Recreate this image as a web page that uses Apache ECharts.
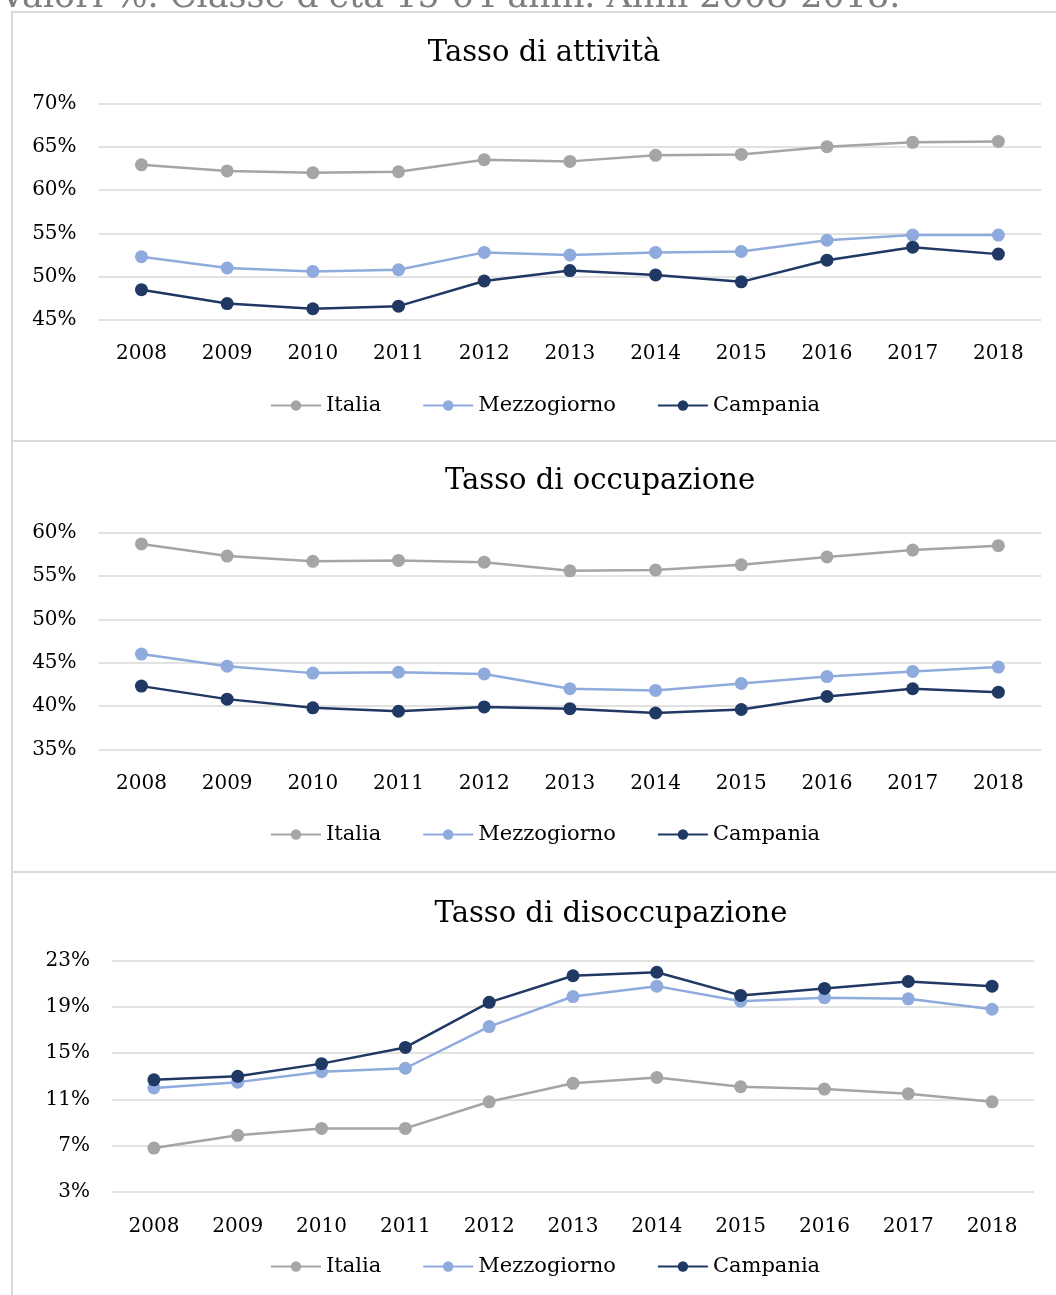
<!DOCTYPE html>
<html>
<head>
    <meta charset="utf-8">
    <script src="https://cdn.jsdelivr.net/npm/echarts@6/dist/echarts.min.js"></script>
    <style>
        body {
            margin: 0px;
            padding: 0px;
            background: #fff;
        }
        #chart {
            width: 1056px;
            height: 1295px;
        }
    </style>
</head>
<body>
    <div id="chart"></div>
    <script>
        var years = ['2008', '2009', '2010', '2011', '2012', '2013', '2014', '2015', '2016', '2017', '2018'];
        var seriesNames = ['Italia', 'Mezzogiorno', 'Campania'];
        var colors = ['#a5a5a5', '#8faadc', '#203864'];

        // Tasso di attivita
        var attItalia = [62.9, 62.2, 62.0, 62.1, 63.5, 63.3, 64.0, 64.1, 65.0, 65.5, 65.6];
        var attMezzogiorno = [52.3, 51.0, 50.6, 50.8, 52.8, 52.5, 52.8, 52.9, 54.2, 54.8, 54.8];
        var attCampania = [48.5, 46.9, 46.3, 46.6, 49.5, 50.7, 50.2, 49.4, 51.9, 53.4, 52.6];

        // Tasso di occupazione
        var occItalia = [58.7, 57.3, 56.7, 56.8, 56.6, 55.6, 55.7, 56.3, 57.2, 58.0, 58.5];
        var occMezzogiorno = [46.0, 44.6, 43.8, 43.9, 43.7, 42.0, 41.8, 42.6, 43.4, 44.0, 44.5];
        var occCampania = [42.3, 40.8, 39.8, 39.4, 39.9, 39.7, 39.2, 39.6, 41.1, 42.0, 41.6];

        // Tasso di disoccupazione
        var disItalia = [6.8, 7.9, 8.5, 8.5, 10.8, 12.4, 12.9, 12.1, 11.9, 11.5, 10.8];
        var disMezzogiorno = [12.0, 12.5, 13.4, 13.7, 17.3, 19.9, 20.8, 19.5, 19.8, 19.7, 18.8];
        var disCampania = [12.7, 13.0, 14.1, 15.5, 19.4, 21.7, 22.0, 20.0, 20.6, 21.2, 20.8];

        var font = 'DejaVu Serif';

        var chart = echarts.init(document.getElementById('chart'));

        function makeSeries(idx, values) {
            return values.map(function (v, i) {
                return {
                    name: seriesNames[i],
                    type: 'line',
                    xAxisIndex: idx,
                    yAxisIndex: idx,
                    data: v,
                    symbol: 'circle',
                    symbolSize: 13,
                    color: colors[i],
                    lineStyle: { width: 2.5, color: colors[i] },
                    itemStyle: { color: colors[i] },
                    animation: false
                };
            });
        }

        function xAxis(idx, margin) {
            return {
                type: 'category',
                gridIndex: idx,
                data: years,
                boundaryGap: true,
                axisLine: { show: false },
                axisTick: { show: false },
                axisLabel: { fontFamily: font, fontSize: 20, color: '#000', margin: margin }
            };
        }

        function yAxis(idx, min, max, step) {
            return {
                type: 'value',
                gridIndex: idx,
                min: min,
                max: max,
                interval: step,
                axisLine: { show: false },
                axisTick: { show: false },
                axisLabel: { fontFamily: font, fontSize: 20, color: '#000', margin: 22, formatter: '{value}%' },
                splitLine: { lineStyle: { color: '#d9d9d9', width: 1.5 } }
            };
        }

        function legend(top) {
            return {
                data: seriesNames,
                left: 270,
                top: top,
                padding: 0,
                itemWidth: 50,
                itemHeight: 13,
                itemGap: 41,
                textStyle: { fontFamily: font, fontSize: 21, color: '#000' }
            };
        }

        function titleText(text, x, y) {
            return {
                type: 'text',
                x: x,
                y: y,
                style: { text: text, fontFamily: font, fontSize: 29, fill: '#000', align: 'center', verticalAlign: 'middle' }
            };
        }

        function box(y, h) {
            return {
                type: 'rect',
                z: -10,
                shape: { x: 12, y: y, width: 1100, height: h },
                style: { fill: 'none', stroke: '#d9d9d9', lineWidth: 2 }
            };
        }

        chart.setOption({
            animation: false,
            grid: [
                { left: 98.6, top: 103.3, width: 942.6, height: 216.7 },
                { left: 98.6, top: 532.7, width: 942.6, height: 216.7 },
                { left: 112, top: 960.7, width: 922, height: 231.3 }
            ],
            xAxis: [xAxis(0, 24), xAxis(1, 24), xAxis(2, 25)],
            yAxis: [yAxis(0, 45, 70, 5), yAxis(1, 35, 60, 5), yAxis(2, 3, 23, 4)],
            legend: [legend(395), legend(824), legend(1256)],
            graphic: [
                box(12, 429),
                box(441, 431),
                box(872, 500),
                {
                    type: 'text',
                    x: 0,
                    y: -2,
                    style: { text: "Valori %. Classe d'età 15-64 anni. Anni 2008-2018.", fontFamily: font, fontSize: 35, fill: '#7f7f7f', verticalAlign: 'middle' }
                },
                titleText('Tasso di attività', 544, 53),
                titleText('Tasso di occupazione', 600, 481),
                titleText('Tasso di disoccupazione', 611, 914)
            ],
            series: []
                .concat(makeSeries(0, [attItalia, attMezzogiorno, attCampania]))
                .concat(makeSeries(1, [occItalia, occMezzogiorno, occCampania]))
                .concat(makeSeries(2, [disItalia, disMezzogiorno, disCampania]))
        });
    </script>
</body>
</html>
